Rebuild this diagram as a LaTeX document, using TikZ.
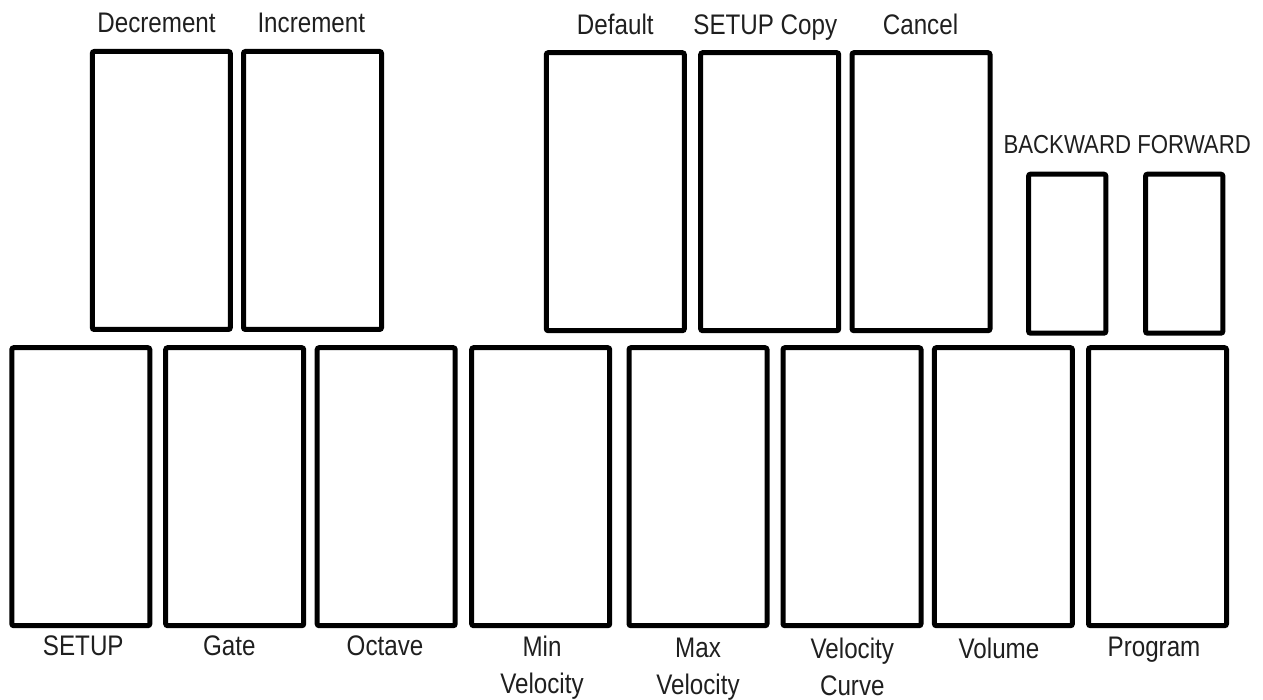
\documentclass[tikz,border=0pt]{standalone}
\usepackage{fontspec}
\setmainfont{Liberation Sans}[FakeStretch=0.855]
\begin{document}
\begin{tikzpicture}[x=1pt,y=-1pt,
  key/.style={draw=black, line width=5pt, rounded corners=2pt, inner sep=0pt,
    minimum width=138pt, minimum height=278pt},
  smallkey/.style={key, minimum width=77.3pt, minimum height=159pt},
  lbl/.style={inner sep=0pt, anchor=base, text=black!88,
    font=\fontsize{28.3}{36.5}\selectfont},
  lbltwo/.style={lbl, anchor=north, align=center},
  lblsmall/.style={lbl, font=\fontsize{26}{30}\selectfont}]
\useasboundingbox (0,0) rectangle (1263,700);

% upper row of keys
\node[key] (dec)  at (161.3,190.5) {};
\node[key] (inc)  at (312.5,190.5) {};
\node[key] (dflt) at (615.3,191.7) {};
\node[key] (scpy) at (769.7,191.7) {};
\node[key] (canc) at (921.0,191.7) {};
\node[smallkey] (back) at (1067.2,253.7) {};
\node[smallkey] (fwd)  at (1184.2,253.7) {};

% lower row of keys
\node[key] (setup) at (80.8,486.7) {};
\node[key] (gate)  at (234.7,486.7) {};
\node[key] (oct)   at (386.2,486.7) {};
\node[key] (minv)  at (540.7,486.7) {};
\node[key] (maxv)  at (698.0,486.7) {};
\node[key] (vcur)  at (852.0,486.7) {};
\node[key] (vol)   at (1003.4,486.7) {};
\node[key] (prog)  at (1157.5,486.7) {};

% labels above the upper row
\node[lbl] (ldec)  at (156.5,32.3) {Decrement};
\node[lbl] (linc)  at (311.3,32.3) {Increment};
\node[lbl] (ldflt) at (615.3,34.5) {Default};
\node[lbl] (lscpy) at (765.3,34.5) {SETUP Copy};
\node[lbl] (lcanc) at (920.5,34.5) {Cancel};
\node[lblsmall] (lbf) at (1127.2,153.3) {BACKWARD FORWARD};

% labels below the lower row
\node[lbl] (lsetup) at (83.3,655) {SETUP};
\node[lbl] (lgate)  at (229.3,655) {Gate};
\node[lbl] (loct)   at (385.0,655) {Octave};
\node[lbltwo] (lminv) at (542.0,636.0) {Min\\Velocity};
\node[lbltwo] (lmaxv) at (698.0,638.0) {Max\\Velocity};
\node[lbltwo] (lvcur) at (852.3,638.0) {Velocity\\Curve};
\node[lbl] (lvol)   at (999.0,658) {Volume};
\node[lbl] (lprog)  at (1154.0,656) {Program};
\end{tikzpicture}
\end{document}
